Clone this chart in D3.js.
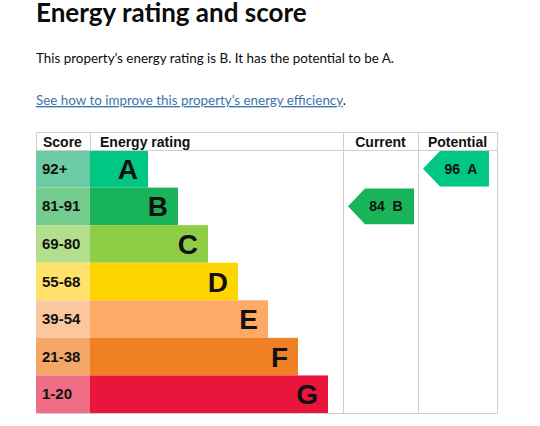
<!DOCTYPE html>
<html>
<head>
<meta charset="utf-8">
<script src="https://cdn.jsdelivr.net/npm/d3@7"></script>
<style>
  body { margin: 0; background: #fff; }
  svg { display: block; }
</style>
</head>
<body>
<div id="chart"></div>
<script>
// bands, top to bottom
var letters = ["A", "B", "C", "D", "E", "F", "G"];
var scoreRanges = ["92+", "81-91", "69-80", "55-68", "39-54", "21-38", "1-20"];
var barColors = ["#00c781", "#19b459", "#8dce46", "#ffd500", "#fcaa65", "#ef8023", "#e9153b"];
var scoreColors = ["#6ccba5", "#74cc8f", "#b3df8d", "#ffe26b", "#fdc79e", "#f4a868", "#ef6e85"];

// current and potential ratings
var ratingCols = ["Current", "Potential"];
var ratingScores = [84, 96];
var ratingLetters = ["B", "A"];

var width = 540, height = 426;

var svg = d3.select("#chart")
  .append("svg")
  .attr("width", width)
  .attr("height", height);

// page text
svg.append("text")
  .attr("x", 36).attr("y", 22)
  .style("font-family", "Lato, 'Noto Sans', sans-serif")
  .style("font-weight", "700")
  .style("font-size", "26px")
  .style("fill", "#0b0c0c")
  .text("Energy rating and score");

svg.append("text")
  .attr("x", 36).attr("y", 63)
  .style("font-family", "Lato, 'Noto Sans', sans-serif")
  .style("font-size", "13.4px")
  .style("fill", "#0b0c0c")
  .text("This property\u2019s energy rating is B. It has the potential to be A.");

var link = svg.append("text")
  .attr("x", 36).attr("y", 105)
  .style("font-family", "Lato, 'Noto Sans', sans-serif")
  .style("font-size", "13.4px");
link.append("tspan")
  .style("fill", "#3a75a8")
  .style("text-decoration", "underline")
  .text("See how to improve this property\u2019s energy efficiency");
link.append("tspan")
  .style("fill", "#0b0c0c")
  .text(".");

// table geometry
var tableLeft = 36, scoreRight = 90, chartRight = 343, currentRight = 418, tableRight = 497;
var headerTop = 132, rowsTop = 150, rowsBottom = 413;

var y = d3.scaleBand()
  .domain(letters)
  .range([rowsTop, rowsBottom]);

// bar end position by band index
var x = d3.scaleLinear()
  .domain([0, letters.length - 1])
  .range([148, 328]);

var colX = d3.scaleOrdinal()
  .domain(ratingCols)
  .range([chartRight, currentRight]);

var arial = "'Liberation Sans', Arial, sans-serif";
var grid = "#cfcfcf";

// header
var header = [
  { t: "Score", x: 43, anchor: "start" },
  { t: "Energy rating", x: 100, anchor: "start" },
  { t: "Current", x: (chartRight + currentRight) / 2, anchor: "middle" },
  { t: "Potential", x: (currentRight + tableRight) / 2, anchor: "middle" }
];
svg.selectAll(".hdr")
  .data(header)
  .enter()
  .append("text")
  .attr("class", "hdr")
  .attr("x", function (d) { return d.x; })
  .attr("y", 147)
  .attr("text-anchor", function (d) { return d.anchor; })
  .style("font-family", arial)
  .style("font-weight", "700")
  .style("font-size", "14px")
  .style("fill", "#111")
  .text(function (d) { return d.t; });

// score cells
svg.selectAll(".score")
  .data(letters)
  .enter()
  .append("rect")
  .attr("x", tableLeft)
  .attr("y", function (d) { return y(d); })
  .attr("width", scoreRight - tableLeft)
  .attr("height", y.bandwidth())
  .style("fill", function (d, i) { return scoreColors[i]; });

svg.selectAll(".scoreText")
  .data(letters)
  .enter()
  .append("text")
  .attr("x", 42)
  .attr("y", function (d) { return y(d) + y.bandwidth() / 2 + 5; })
  .style("font-family", arial)
  .style("font-weight", "700")
  .style("font-size", "15px")
  .style("fill", "#111")
  .text(function (d, i) { return scoreRanges[i]; });

// bars
svg.selectAll(".bar")
  .data(letters)
  .enter()
  .append("rect")
  .attr("x", scoreRight)
  .attr("y", function (d) { return y(d); })
  .attr("width", function (d, i) { return x(i) - scoreRight; })
  .attr("height", y.bandwidth())
  .style("fill", function (d, i) { return barColors[i]; });

svg.selectAll(".barText")
  .data(letters)
  .enter()
  .append("text")
  .attr("x", function (d, i) { return x(i) - 10; })
  .attr("y", function (d) { return y(d) + y.bandwidth() / 2 + 10; })
  .attr("text-anchor", "end")
  .style("font-family", arial)
  .style("font-weight", "700")
  .style("font-size", "28px")
  .style("fill", "#111")
  .text(function (d) { return d; });

// grid lines
var lines = [
  [tableLeft, headerTop, tableRight, headerTop],
  [tableLeft, rowsTop, tableRight, rowsTop],
  [tableLeft, rowsBottom, tableRight, rowsBottom],
  [scoreRight, headerTop, scoreRight, rowsTop],
  [tableLeft, headerTop, tableLeft, rowsTop],
  [chartRight, headerTop, chartRight, rowsBottom],
  [currentRight, headerTop, currentRight, rowsBottom],
  [tableRight, headerTop, tableRight, rowsBottom]
];
svg.selectAll(".grid")
  .data(lines)
  .enter()
  .append("line")
  .attr("x1", function (d) { return d[0] + 0.5; })
  .attr("y1", function (d) { return d[1] + 0.5; })
  .attr("x2", function (d) { return d[2] + 0.5; })
  .attr("y2", function (d) { return d[3] + 0.5; })
  .style("stroke", grid)
  .style("stroke-width", 1);

// current / potential arrows
var arrows = ratingCols.map(function (c, i) {
  return { col: c, score: ratingScores[i], letter: ratingLetters[i] };
});

var arrowG = svg.selectAll(".arrow")
  .data(arrows)
  .enter()
  .append("g");

arrowG.append("path")
  .attr("d", function (d) {
    var x0 = colX(d.col) + 5, x1 = colX(d.col) + 71;
    var t = y(d.letter) + 1, b = y(d.letter) + y.bandwidth() - 1, m = (t + b) / 2;
    return "M" + x0 + "," + m + "L" + (x0 + 17) + "," + t + "L" + x1 + "," + t +
      "L" + x1 + "," + b + "L" + (x0 + 17) + "," + b + "Z";
  })
  .style("fill", function (d) { return barColors[letters.indexOf(d.letter)]; });

arrowG.append("text")
  .attr("x", function (d) { return colX(d.col) + 43; })
  .attr("y", function (d) { return y(d.letter) + y.bandwidth() / 2 + 5; })
  .attr("text-anchor", "middle")
  .style("font-family", arial)
  .style("font-weight", "700")
  .style("font-size", "14px")
  .style("fill", "#111")
  .style("white-space", "pre")
  .text(function (d) { return d.score + "  " + d.letter; });
</script>
</body>
</html>
